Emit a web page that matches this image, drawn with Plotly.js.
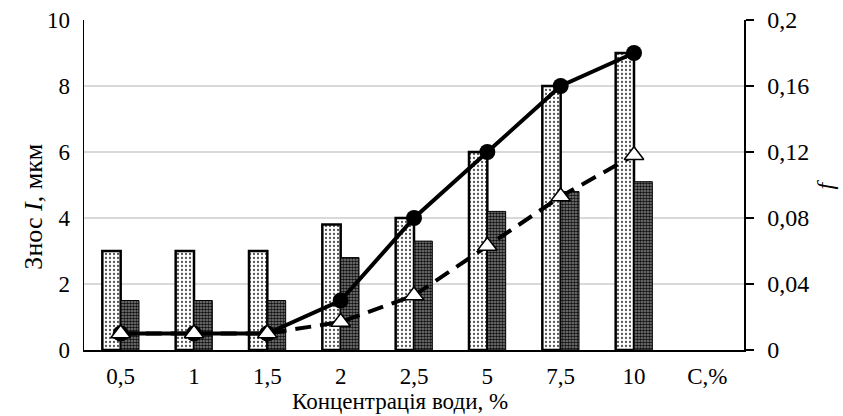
<!DOCTYPE html>
<html><head><meta charset="utf-8">
<script src="https://cdn.plot.ly/plotly-3.0.1.min.js"></script>
<style>body{margin:0;background:#fff}#c{width:843px;height:416px}</style>
</head><body><div id="c"></div>
<script>
const categories = ["0,5","1","1,5","2","2,5","5","7,5","10","C,%"];
const dataCats = ["0,5","1","1,5","2","2,5","5","7,5","10"];
const wearLight = [3, 3, 3, 3.8, 4, 6, 8, 9];
const wearDark = [1.5, 1.5, 1.5, 2.8, 3.3, 4.2, 4.8, 5.1];
const frictionSolid = [0.01, 0.01, 0.01, 0.03, 0.08, 0.12, 0.16, 0.18];
const frictionDashed = [0.01, 0.01, 0.01, 0.017, 0.033, 0.063, 0.093, 0.118];

const font = "Liberation Serif, Times New Roman, serif";
const traces = [
  {type:"bar", x:dataCats, y:wearLight, yaxis:"y",
   marker:{color:"#ffffff", line:{color:"#000", width:2.5},
     pattern:{shape:".", fgcolor:"#555", bgcolor:"#fff", size:4, solidity:0.25}}},
  {type:"bar", x:dataCats, y:wearDark, yaxis:"y",
   marker:{color:"#444", line:{color:"#000", width:1},
     pattern:{shape:".", fgcolor:"#111", bgcolor:"#888", size:3, solidity:0.6}}},
  {type:"scatter", mode:"lines+markers", x:dataCats, y:frictionSolid, yaxis:"y2",
   line:{color:"#000", width:4}, marker:{symbol:"circle", size:16, color:"#000"}},
  {type:"scatter", mode:"lines+markers", x:dataCats, y:frictionDashed, yaxis:"y2",
   line:{color:"#000", width:4, dash:"16px,9px"},
   marker:{symbol:"triangle-up", size:17, color:"#fff", line:{color:"#000", width:1.5}}}
];
const layout = {
  width:843, height:416, showlegend:false,
  margin:{l:84, r:99, t:20, b:66},
  paper_bgcolor:"#fff", plot_bgcolor:"#fff",
  separators:", ",
  barmode:"group", bargap:0.5, bargroupgap:0,
  font:{family:font, size:24, color:"#000"},
  xaxis:{type:"category", categoryarray:categories, categoryorder:"array",
    range:[-0.5, 8.5], showline:true, linecolor:"#000", linewidth:1.5,
    ticks:"", showgrid:false, tickfont:{size:23}, ticklabelstandoff:5},
  yaxis:{range:[0,10], dtick:2, showline:true, linecolor:"#000", linewidth:1.5,
    ticks:"", showgrid:true, gridcolor:"#d9d9d9", gridwidth:1.5, zeroline:false,
    tickfont:{size:23}, ticklabelstandoff:8},
  yaxis2:{range:[0,0.2], dtick:0.04, overlaying:"y", side:"right",
    showline:true, linecolor:"#000", linewidth:1.5, ticks:"outside", ticklen:8,
    tickcolor:"#000", tickwidth:1.5, showgrid:false, zeroline:false,
    tickfont:{size:24}, ticklabelstandoff:9},
  annotations:[
    {text:"Концентрація води, %", xref:"paper", yref:"paper", x:0.4791, y:-0.2,
     xanchor:"center", yanchor:"bottom", showarrow:false, font:{size:23}},
    {text:"Знос <i>I</i>, мкм", xref:"paper", yref:"paper", x:-0.077, y:0.435,
     xanchor:"center", yanchor:"middle", textangle:-90, showarrow:false, font:{size:26}},
    {text:"<i>f</i>", xref:"paper", yref:"paper", x:1.122, y:0.5,
     xanchor:"center", yanchor:"middle", textangle:-90, showarrow:false, font:{size:24}}
  ]
};
Plotly.newPlot("c", traces, layout, {displayModeBar:false, staticPlot:true});
</script></body></html>
